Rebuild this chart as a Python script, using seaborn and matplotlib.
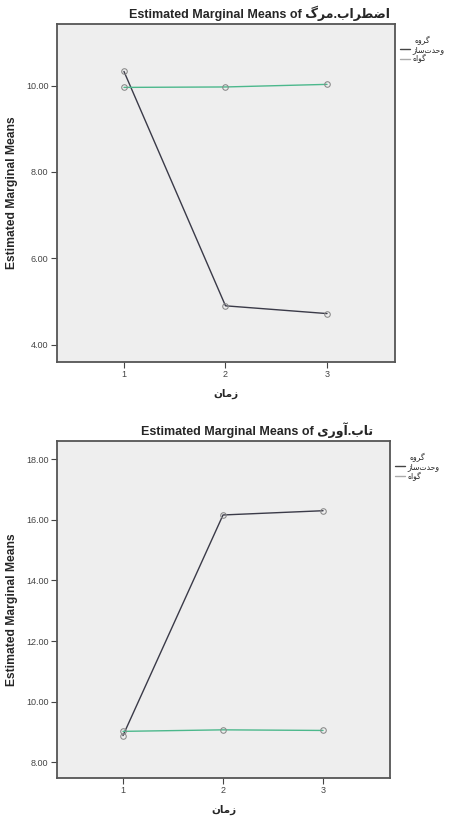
import matplotlib
matplotlib.use('Agg')
import matplotlib.pyplot as plt
from matplotlib.lines import Line2D
import pandas as pd
import seaborn as sns

# Values
times = [1, 2, 3]
groups = ['وحدت‌ساز', 'گواه']
anxiety_group1 = [10.33, 4.90, 4.72]
anxiety_group2 = [9.96, 9.97, 10.03]
resilience_group1 = [8.88, 16.16, 16.30]
resilience_group2 = [9.02, 9.07, 9.05]

title_prefix = 'Estimated Marginal Means of '
anxiety_name = 'اضطراب.مرگ'
resilience_name = 'تاب.آوری'
legend_title = 'گروه'
x_label = 'زمان'
y_label = 'Estimated Marginal Means'

anxiety_ticks = [4, 6, 8, 10]
resilience_ticks = [8, 10, 12, 14, 16, 18]

colors = ['#3a3a48', '#4cb88c']

# matplotlib does no Arabic shaping, so pick presentation forms by hand
# (isolated, final, initial, medial); right-joining letters have no initial/medial
FORMS = {
    'ا': ('\uFE8D', '\uFE8E', None, None),
    'آ': ('\uFE81', '\uFE82', None, None),
    'ب': ('\uFE8F', '\uFE90', '\uFE91', '\uFE92'),
    'ت': ('\uFE95', '\uFE96', '\uFE97', '\uFE98'),
    'ح': ('\uFEA1', '\uFEA2', '\uFEA3', '\uFEA4'),
    'د': ('\uFEA9', '\uFEAA', None, None),
    'ر': ('\uFEAD', '\uFEAE', None, None),
    'ز': ('\uFEAF', '\uFEB0', None, None),
    'س': ('\uFEB1', '\uFEB2', '\uFEB3', '\uFEB4'),
    'ض': ('\uFEBD', '\uFEBE', '\uFEBF', '\uFEC0'),
    'ط': ('\uFEC1', '\uFEC2', '\uFEC3', '\uFEC4'),
    'م': ('\uFEE1', '\uFEE2', '\uFEE3', '\uFEE4'),
    'ن': ('\uFEE5', '\uFEE6', '\uFEE7', '\uFEE8'),
    'ه': ('\uFEE9', '\uFEEA', '\uFEEB', '\uFEEC'),
    'و': ('\uFEED', '\uFEEE', None, None),
    'ی': ('\uFBFC', '\uFBFD', '\uFBFE', '\uFBFF'),
    'گ': ('\uFB92', '\uFB93', '\uFB94', '\uFB95'),
}


def shaped(text):
    out = []
    for i, c in enumerate(text):
        if c not in FORMS:
            if c != '\u200c':
                out.append(c)
            continue
        iso, fin, ini, med = FORMS[c]
        prev = text[i - 1] if i > 0 else None
        nxt = text[i + 1] if i + 1 < len(text) else None
        join_prev = prev in FORMS and FORMS[prev][2] is not None
        join_next = nxt in FORMS and ini is not None
        if join_prev and join_next:
            out.append(med)
        elif join_prev:
            out.append(fin)
        elif join_next:
            out.append(ini)
        else:
            out.append(iso)
    return ''.join(reversed(out))


def make_frame(g1, g2):
    df = pd.DataFrame({'time': times * 2,
                       'group': [groups[0]] * 3 + [groups[1]] * 3,
                       'mean': g1 + g2})
    return df


sns.set_style('white')
plt.rcParams['font.family'] = ['Liberation Sans', 'DejaVu Sans']

fig = plt.figure(figsize=(4.52, 8.17), dpi=100)
ax1 = fig.add_axes([0.126, 0.557, 0.748, 0.4137])
ax2 = fig.add_axes([0.126, 0.0477, 0.737, 0.4125])

panels = [
    (ax1, make_frame(anxiety_group1, anxiety_group2), anxiety_name, anxiety_ticks, (3.6, 11.43)),
    (ax2, make_frame(resilience_group1, resilience_group2), resilience_name, resilience_ticks, (7.48, 18.6)),
]

for ax, df, name, ticks, ylim in panels:
    ax.set_facecolor('#eeeeee')
    sns.lineplot(data=df, x='time', y='mean', hue='group', palette=colors,
                 marker='o', markersize=4, markerfacecolor='none',
                 markeredgecolor='#888888', linewidth=1.0, legend=False, ax=ax)
    ax.set_xlim(0.34, 3.67)
    ax.set_ylim(*ylim)
    ax.set_xticks(times)
    ax.set_xticklabels([str(t) for t in times])
    ax.set_yticks(ticks)
    ax.set_yticklabels(['%.2f' % t for t in ticks])
    ax.tick_params(axis='both', direction='out', length=4, width=0.8,
                   colors='#444444', labelsize=6.5, left=True, bottom=True, pad=2)
    for s in ax.spines.values():
        s.set_color('#555555')
        s.set_linewidth(1.3)
    ax.set_title(title_prefix + shaped(name), fontsize=9, fontweight='bold',
                 pad=4, x=0.6)
    ax.set_xlabel(shaped(x_label), fontsize=7.5, fontweight='bold', labelpad=7)
    ax.set_ylabel(y_label, fontsize=8.7, fontweight='bold', labelpad=6)

    handles = [Line2D([], [], color='#444444', linewidth=1.0),
               Line2D([], [], color='#aaaaaa', linewidth=1.0)]
    leg = ax.legend(handles, [shaped(g) for g in groups], title=shaped(legend_title),
                    loc='upper left', bbox_to_anchor=(1.0, 0.98), frameon=False,
                    fontsize=5.5, title_fontsize=5.5, handlelength=1.3,
                    handletextpad=0.3, labelspacing=0.1, borderpad=0.2)

fig.savefig('out.png', dpi=100, facecolor='white')
